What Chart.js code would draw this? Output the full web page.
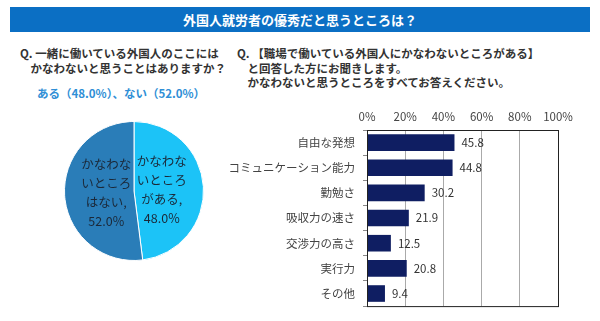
<!DOCTYPE html>
<html>
<head>
<meta charset="utf-8">
<script src="https://cdn.jsdelivr.net/npm/chart.js@4"></script>
<style>
  body { margin: 0; width: 600px; height: 321px; background: #fff; position: relative; overflow: hidden;
         font-family: "Noto Sans CJK JP", "Noto Sans", sans-serif; color: #222; }
  #banner { position: absolute; left: 10px; top: 7px; width: 580px; height: 25px; background: #0b6fc4;
            color: #fff; font-weight: bold; font-size: 13px; line-height: 25px; text-align: center; }
  .q { position: absolute; font-size: 11.5px; line-height: 14.5px; font-weight: bold; color: #333; }
  #sub { position: absolute; left: 37px; top: 85px; font-size: 11.5px; font-weight: bold; color: #2f8fd6; }
  #pieWrap { position: absolute; left: 60px; top: 117px; width: 148px; height: 148px; }
  #barWrap { position: absolute; left: 220px; top: 95px; width: 380px; height: 226px; }
</style>
</head>
<body>
<div id="banner">外国人就労者の優秀だと思うところは？</div>
<div class="q" style="left:20px; top:46px;">Q. 一緒に働いている外国人のここには<br>&nbsp;&nbsp;&nbsp;&nbsp;かなわないと思うことはありますか？</div>
<div id="sub">ある（48.0%）、ない（52.0%）</div>
<div class="q" style="left:237px; top:46px;">Q. 【職場で働いている外国人にかなわないところがある】<br>&nbsp;&nbsp;&nbsp;&nbsp;と回答した方にお聞きします。<br>&nbsp;&nbsp;&nbsp;&nbsp;かなわないと思うところをすべてお答えください。</div>
<div id="pieWrap"><canvas id="pieChart"></canvas></div>
<div id="barWrap"><canvas id="barChart"></canvas></div>
<script>
// pie data
const pieLabels = [["かなわな", "いところ", "がある,", "48.0%"], ["かなわな", "いところ", "はない,", "52.0%"]];
const pieValues = [48.0, 52.0];
const pieColors = ["#1cc3f7", "#2a7db8"];

// bar data
const barCategories = ["自由な発想", "コミュニケーション能力", "勤勉さ", "吸収力の速さ", "交渉力の高さ", "実行力", "その他"];
const barValues = [45.8, 44.8, 30.2, 21.9, 12.5, 20.8, 9.4];
const barColor = "#0f1e62";

const pieText = {
  id: "pieText",
  afterDatasetsDraw(chart) {
    const ctx = chart.ctx;
    const meta = chart.getDatasetMeta(0);
    ctx.save();
    ctx.font = "12.5px 'Noto Sans CJK JP'";
    ctx.fillStyle = "#1b2838";
    ctx.textAlign = "center";
    ctx.textBaseline = "middle";
    meta.data.forEach((arc, i) => {
      const p = arc.getProps(["x", "y", "startAngle", "endAngle", "outerRadius"]);
      const mid = (p.startAngle + p.endAngle) / 2;
      const r = p.outerRadius * 0.4;
      const cx = p.x + Math.cos(mid) * r;
      const cy = p.y + Math.sin(mid) * r;
      const lines = pieLabels[i];
      lines.forEach((t, j) => {
        ctx.fillText(t, cx, cy + (j - (lines.length - 1) / 2) * 19);
      });
    });
    ctx.restore();
  }
};

new Chart(document.getElementById("pieChart"), {
  type: "pie",
  data: {
    labels: pieLabels.map(l => l.join("")),
    datasets: [{ data: pieValues, backgroundColor: pieColors, borderColor: "#fff", borderWidth: 1 }]
  },
  options: {
    responsive: true,
    maintainAspectRatio: false,
    animation: false,
    layout: { padding: 4 },
    plugins: { legend: { display: false }, tooltip: { enabled: false } }
  },
  plugins: [pieText]
});

const barExtras = {
  id: "barExtras",
  afterDatasetsDraw(chart) {
    const ctx = chart.ctx;
    const a = chart.chartArea;
    ctx.save();
    ctx.strokeStyle = "#222";
    ctx.lineWidth = 1;
    ctx.strokeRect(a.left + 0.5, a.top + 0.5, a.right - a.left, a.bottom - a.top);
    ctx.font = "11.5px 'Noto Sans CJK JP'";
    ctx.fillStyle = "#333";
    ctx.textBaseline = "middle";
    chart.getDatasetMeta(0).data.forEach((bar, i) => {
      ctx.fillText(barValues[i].toFixed(1), bar.x + 7, bar.y);
    });
    ctx.restore();
  }
};

new Chart(document.getElementById("barChart"), {
  type: "bar",
  data: {
    labels: barCategories,
    datasets: [{ data: barValues, backgroundColor: barColor, barPercentage: 0.66, categoryPercentage: 1 }]
  },
  options: {
    indexAxis: "y",
    responsive: true,
    maintainAspectRatio: false,
    animation: false,
    layout: { padding: { right: 42, bottom: 14 } },
    plugins: { legend: { display: false }, tooltip: { enabled: false } },
    scales: {
      x: {
        position: "top",
        min: 0,
        max: 100,
        ticks: { stepSize: 20, callback: v => v + "%", color: "#444", font: { size: 11.5, family: "Noto Sans CJK JP" }, padding: 6 },
        grid: { color: "#aaa", drawTicks: false },
        border: { display: false },
        afterFit(s) { s.height = 35; }
      },
      y: {
        ticks: { color: "#444", font: { size: 11.5, family: "Noto Sans CJK JP" }, padding: 8 },
        grid: { offset: true, drawOnChartArea: false, tickLength: 4, color: "#888" },
        border: { display: false },
        afterFit(s) { s.width = 147; }
      }
    }
  },
  plugins: [barExtras]
});
</script>
</body>
</html>
